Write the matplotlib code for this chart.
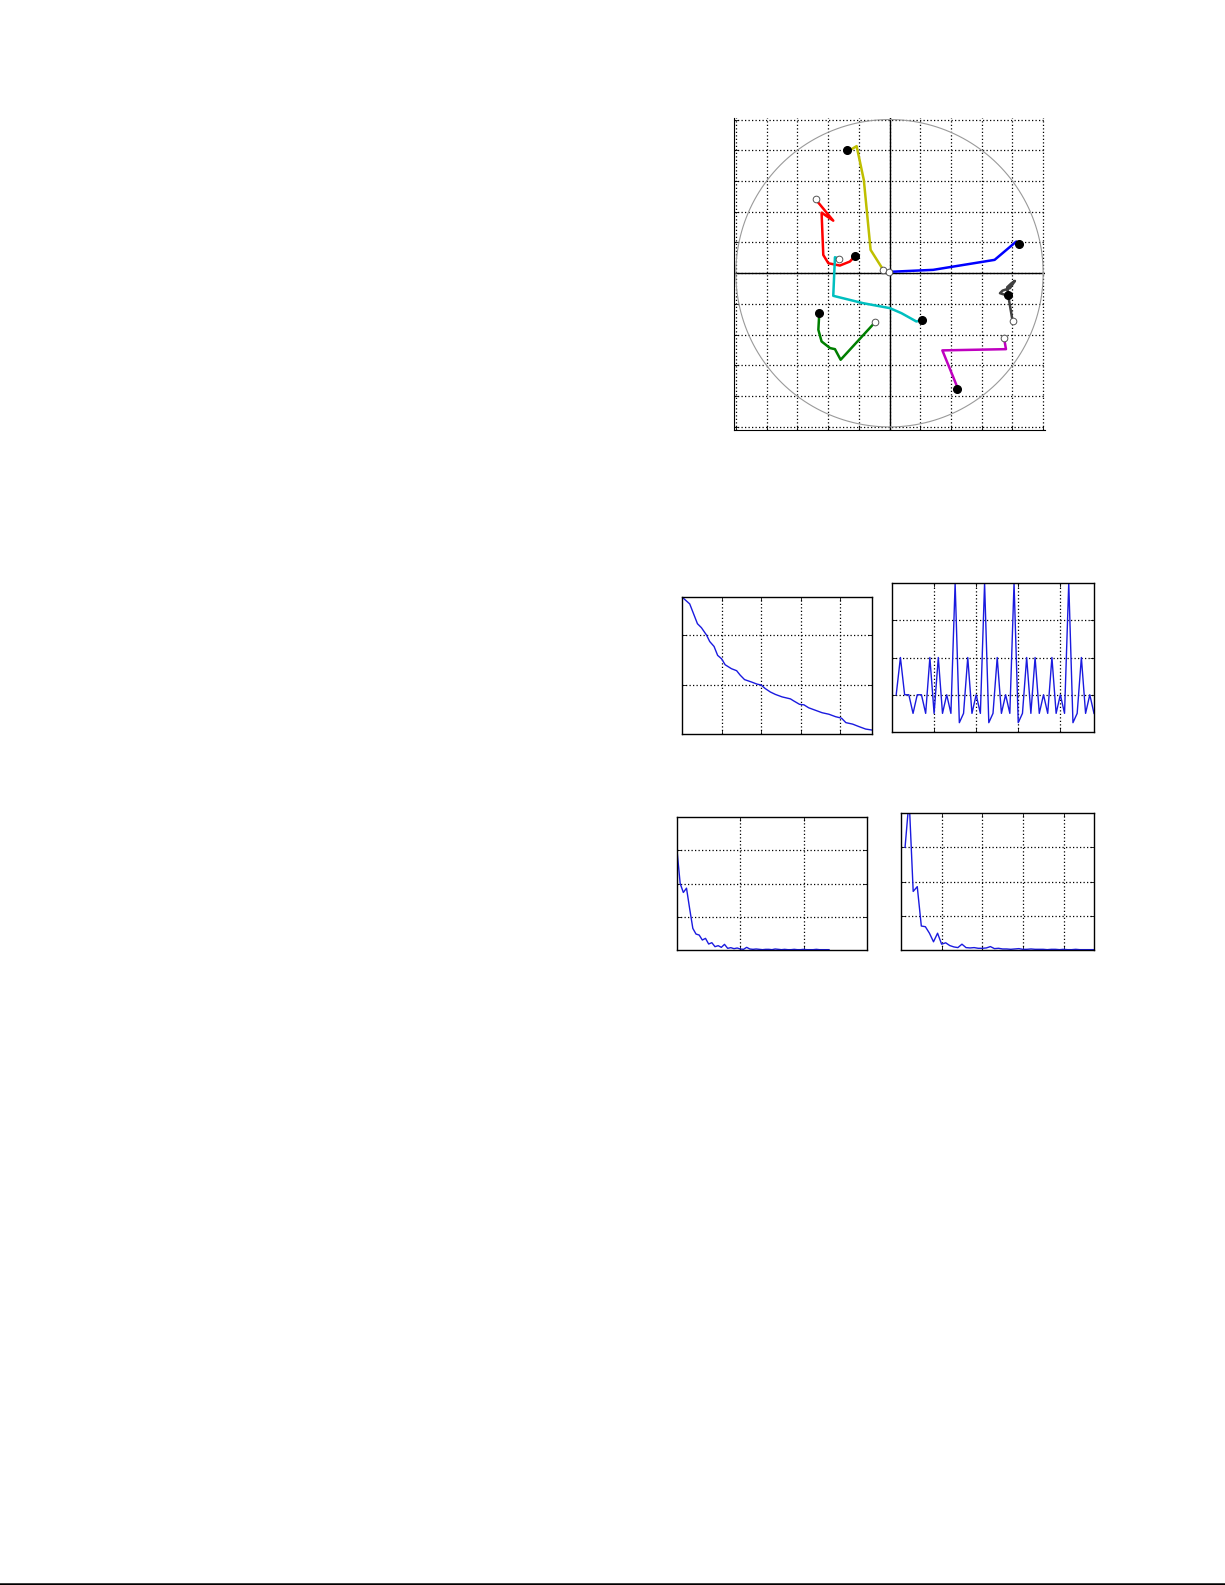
import matplotlib
matplotlib.use("Agg")
import matplotlib.pyplot as plt
from matplotlib.lines import Line2D
import numpy as np

W, H = 1225, 1585

# ---- trajectory panel data (unit-circle coordinates) ----
traj_yellow_x = [-0.041, -0.123, -0.167, -0.214, -0.247, -0.277]
traj_yellow_y = [0.022, 0.152, 0.606, 0.827, 0.807, 0.801]
traj_red_x = [-0.481, -0.366, -0.442, -0.431, -0.398, -0.323, -0.258, -0.223]
traj_red_y = [0.481, 0.342, 0.394, 0.119, 0.065, 0.050, 0.076, 0.113]
traj_cyan_x = [-0.327, -0.355, -0.366, -0.171, 0.002, 0.078, 0.175, 0.214]
traj_cyan_y = [0.095, 0.104, -0.147, -0.195, -0.227, -0.260, -0.314, -0.303]
traj_blue_x = [-0.002, 0.284, 0.684, 0.825, 0.842]
traj_blue_y = [0.009, 0.022, 0.087, 0.206, 0.190]
traj_green_x = [-0.095, -0.318, -0.355, -0.387, -0.442, -0.463, -0.457]
traj_green_y = [-0.320, -0.563, -0.494, -0.487, -0.444, -0.368, -0.260]
traj_magenta_x = [0.745, 0.758, 0.344, 0.413, 0.439, 0.439]
traj_magenta_y = [-0.420, -0.494, -0.502, -0.671, -0.736, -0.753]
traj_gray_x = [0.801, 0.773, 0.719, 0.736, 0.784, 0.816, 0.794, 0.766, 0.773]
traj_gray_y = [-0.310, -0.147, -0.130, -0.113, -0.097, -0.050, -0.065, -0.091, -0.141]

trajectories = [
    (traj_yellow_x, traj_yellow_y, "#bfbf00"),
    (traj_red_x, traj_red_y, "#ff0000"),
    (traj_cyan_x, traj_cyan_y, "#00bfbf"),
    (traj_blue_x, traj_blue_y, "#0000ff"),
    (traj_green_x, traj_green_y, "#007f00"),
    (traj_magenta_x, traj_magenta_y, "#bf00bf"),
    (traj_gray_x, traj_gray_y, "#404040"),
]

# ---- small panel data ----
decay_x = [0, 1.95, 3.9, 4.9, 6.2, 7.0, 8.1, 9.0, 10.0, 10.9, 12.5, 13.8, 14.7, 15.8,
           17.6, 18.9, 20.0, 21.0, 22.3, 23.6, 25.3, 27.4, 28.2, 29.7, 30.8, 32.0,
           33.7, 35.4, 37.1, 38.8, 40.3, 41.4, 43.1, 44.7, 46.4, 48.0]
decay_y = [2.77, 2.63, 2.23, 2.15, 2.00, 1.87, 1.77, 1.59, 1.52, 1.40, 1.32, 1.28, 1.19,
           1.10, 1.05, 1.01, 0.99, 0.92, 0.85, 0.80, 0.75, 0.71, 0.67, 0.60, 0.59, 0.53,
           0.48, 0.43, 0.40, 0.35, 0.32, 0.23, 0.20, 0.15, 0.10, 0.08]

spike_y = [1, 2, 1, 1, 0.5, 1, 1, 0.5, 2, 0.5, 2, 0.5, 1, 0.5, 4, 0.25, 0.5, 2, 0.5, 1,
           0.5, 4, 0.25, 0.5, 2, 0.5, 1, 0.5, 4, 0.25, 0.5, 2, 0.5, 2, 0.5, 1, 0.5, 2,
           0.5, 1, 0.5, 4, 0.25, 0.5, 2, 0.5, 1, 0.5]

spectrum_a = [3.0, 2.0, 1.73, 1.86, 1.24, 0.65, 0.48, 0.45, 0.30, 0.35, 0.18, 0.22, 0.10,
              0.13, 0.08, 0.17, 0.05, 0.07, 0.04, 0.06, 0.03, 0.02, 0.08, 0.03, 0.02,
              0.03, 0.02, 0.01, 0.02, 0.02, 0.01, 0.03, 0.02, 0.01, 0.02, 0.01, 0.01,
              0.02, 0.01, 0.01, 0.02, 0.01, 0.01, 0.01, 0.02, 0.01, 0.01, 0.01, 0.01]

spectrum_b = [3.0, 4.4, 1.71, 1.85, 0.70, 0.68, 0.49, 0.24, 0.49, 0.17, 0.21, 0.13, 0.09,
              0.07, 0.17, 0.07, 0.06, 0.07, 0.05, 0.05, 0.06, 0.10, 0.04, 0.05, 0.03,
              0.03, 0.02, 0.03, 0.04, 0.02, 0.02, 0.03, 0.02, 0.02, 0.02, 0.01, 0.02,
              0.02, 0.01, 0.02, 0.01, 0.01, 0.02, 0.01, 0.01, 0.01, 0.01, 0.01]

fig = plt.figure(figsize=(W / 100, H / 100), dpi=100)

GRID_LS = (0, (1, 1.8))


def add_ax(left, top, right, bottom):
    return fig.add_axes([left / W, 1 - bottom / H, (right - left) / W, (bottom - top) / H])


def style_small(ax, xt, yt):
    ax.set_xticks(xt)
    ax.set_yticks(yt)
    ax.set_xticklabels([])
    ax.set_yticklabels([])
    ax.tick_params(direction="in", length=3, width=0.6, top=True, right=True)
    ax.grid(True, color="black", linestyle=GRID_LS, linewidth=0.9)
    for s in ax.spines.values():
        s.set_linewidth(1.0)
        s.set_color("black")


# ---- trajectory panel ----
ax0 = add_ax(734, 118, 1045, 430)
ax0.set_xlim(-1.012, 1.012)
ax0.set_ylim(-1.02, 1.01)
ticks = np.round(np.arange(-1.0, 1.01, 0.2), 2)
ax0.set_xticks(ticks)
ax0.set_yticks(ticks)
ax0.set_xticklabels([])
ax0.set_yticklabels([])
ax0.tick_params(direction="in", length=3, width=0.6)
ax0.grid(True, color="black", linestyle=GRID_LS, linewidth=0.9)
ax0.spines["top"].set_visible(False)
ax0.spines["right"].set_visible(False)
ax0.axhline(0, color="black", lw=1.0)
ax0.axvline(0, color="black", lw=1.0)
th = np.linspace(0, 2 * np.pi, 400)
ax0.plot(np.cos(th), np.sin(th), color="#9a9a9a", lw=0.8)
for xs, ys, c in trajectories:
    ax0.plot(xs, ys, color=c, lw=1.8, solid_joinstyle="round")
    ax0.plot(xs[0], ys[0], "o", mfc="white", mec="#555555", mew=0.7, ms=4.8, zorder=5)
    ax0.plot(xs[-1], ys[-1], "o", mfc="black", mec="black", ms=5.5, zorder=6)

# ---- top-left small panel ----
ax1 = add_ax(682, 597, 872, 734)
ax1.plot(decay_x, decay_y, color="#1a1adf", lw=1.0)
ax1.set_xlim(0, 48)
ax1.set_ylim(0, 2.77)
style_small(ax1, [10, 20, 30, 40], [1, 2])

# ---- top-right small panel ----
ax2 = add_ax(892, 583, 1094, 732)
ax2.plot(np.arange(1, len(spike_y) + 1), spike_y, color="#1a1adf", lw=1.0)
ax2.set_xlim(0, 48)
ax2.set_ylim(0, 4)
style_small(ax2, [10, 20, 30, 40], [1, 2, 3])

# ---- bottom-left small panel ----
ax3 = add_ax(677, 817, 867, 950)
ax3.plot(np.arange(0, len(spectrum_a)), spectrum_a, color="#1a1adf", lw=1.0)
ax3.set_xlim(0, 60)
ax3.set_ylim(0, 4)
style_small(ax3, [20, 40], [1, 2, 3])

# ---- bottom-right small panel ----
ax4 = add_ax(901, 813, 1094, 950)
ax4.plot(np.arange(1, len(spectrum_b) + 1), spectrum_b, color="#1a1adf", lw=1.0)
ax4.set_xlim(0, 47.5)
ax4.set_ylim(0, 4)
style_small(ax4, [10, 20, 30, 40], [1, 2, 3])

# page rule at the bottom
fig.add_artist(Line2D([0, 1], [1.5 / H, 1.5 / H], color="black", lw=1.8))

fig.savefig("out.png", dpi=100, facecolor="white")
